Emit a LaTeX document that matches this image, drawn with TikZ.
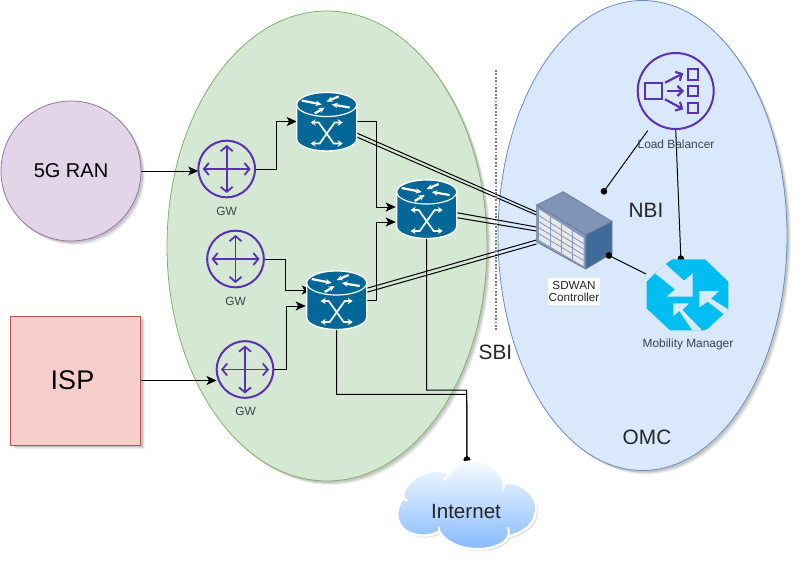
\documentclass[tikz,border=0pt]{standalone}
\usepackage{fontspec}
\setmainfont{Liberation Sans}
\usetikzlibrary{arrows.meta,shapes.geometric,shadows,calc}
\definecolor{gwpurple}{HTML}{5A30B5}
\definecolor{routerblue}{HTML}{036897}
\definecolor{mmcyan}{HTML}{00BEF2}
\definecolor{bgblue}{HTML}{DAE8FC}
\definecolor{bgblueline}{HTML}{6C8EBF}
\definecolor{bggreen}{HTML}{D5E8D4}
\definecolor{bggreenline}{HTML}{82B366}
\definecolor{ranfill}{HTML}{E1D5E7}
\definecolor{ranline}{HTML}{9673A6}
\definecolor{ispfill}{HTML}{F8CECC}
\definecolor{ispline}{HTML}{B85450}
\definecolor{labelgray}{HTML}{3A424C}
\definecolor{cloudblue}{HTML}{7EB6FF}
\definecolor{ctop}{HTML}{8094B8}
\definecolor{cside}{HTML}{3F6B9A}
\definecolor{cedge}{HTML}{6F7F95}
\definecolor{cgrid}{HTML}{8399C0}
\definecolor{ccell}{HTML}{E8E8E8}
\newcommand{\fs}[1]{\fontsize{#1}{#1}\selectfont}
\tikzset{
  softshadow/.style={
    general shadow={shadow xshift=4pt,shadow yshift=-4pt,fill=black,opacity=.06},
    general shadow={shadow xshift=3pt,shadow yshift=-3pt,fill=black,opacity=.08},
    general shadow={shadow xshift=2pt,shadow yshift=-2pt,fill=black,opacity=.1}},
  zone/.style={ellipse,inner sep=0pt,line width=.8pt,softshadow},
  bigtext/.style={font=\fs{20.8},text=black!85},
  smalllabel/.style={font=\fs{11.9},text=labelgray,inner sep=0pt},
  conn/.style={line width=1pt,draw=black,-{Stealth[length=10pt,width=9pt,inset=2.5pt]}},
  dotconn/.style={line width=1pt,draw=black,-{Circle[length=6.6pt,width=6.6pt]}},
  thinline/.style={line width=1pt,draw=black},
  hitbox/.style={rectangle,inner sep=0pt,outer sep=0pt},
  router/.pic={
    \path[fill=routerblue,draw=white,line width=1.4pt]
      (-30,-17) -- (-30,17.5) arc[start angle=180,end angle=360,x radius=30pt,y radius=12pt]
      -- (30,-17) arc[start angle=0,end angle=180,x radius=30pt,y radius=12pt] -- cycle;
    \draw[white,line width=1.2pt,fill=routerblue] (0,-17) ellipse[x radius=30pt,y radius=12pt];
    \begin{scope}[white,-{Stealth[length=6pt,width=5.5pt]}]
      \draw[line width=2.2pt] (-25,-21) -- (-5,-17);
      \draw[line width=2.2pt] (12,-25) -- (0,-20);
      \draw[line width=2.2pt] (23,-14) -- (5,-17);
      \draw[line width=2.2pt] (-12,-8) -- (-2,-14);
    \end{scope}
    \begin{scope}[white,line width=1.7pt,{Stealth[length=5pt,width=6.5pt]}-{Stealth[length=5pt,width=6.5pt]}]
      \draw (-16,1) -- (-8,1) -- (7,22) -- (16,22);
      \draw (16,1) -- (8,1) -- (-7,22) -- (-16,22);
    \end{scope}
  },
  gwicon/.pic={
    \draw[gwpurple,line width=2pt] (0,0) circle[radius=28.3pt];
    \begin{scope}[gwpurple,line width=1.8pt,{Straight Barb[length=5pt,width=12pt]}-{Straight Barb[length=5pt,width=12pt]}]
      \draw (-24,0) -- (24,0);
      \draw (0,-24) -- (0,24);
    \end{scope}
  },
}
\begin{document}
\begin{tikzpicture}[x=1pt,y=-1pt]
\useasboundingbox (0,0) rectangle (798,562);

% zones
\node[zone,draw=bggreenline,fill=bggreen,minimum width=320pt,minimum height=470pt] (edgezone) at (327,246) {};
\node[zone,draw=bgblueline,fill=bgblue,minimum width=289pt,minimum height=470pt] (omczone) at (642.5,235.5) {};
\node[zone,circle,draw=ranline,fill=ranfill,minimum size=140pt] (ran) at (71,171) {\fs{20}5G RAN};
\node[rectangle,draw=ispline,line width=.8pt,fill=ispfill,minimum width=130pt,minimum height=129pt,inner sep=0pt,softshadow,font=\fs{27}] (isp) at (75.5,380.5) {ISP\hspace{6pt}\null};

% invisible named boxes for the icons
\node[hitbox,minimum width=57pt,minimum height=57pt] (gw1) at (226.7,169) {};
\node[hitbox,minimum width=57pt,minimum height=57pt] (gw2) at (235.5,259) {};
\node[hitbox,minimum width=57pt,minimum height=57pt] (gw3) at (245,369.5) {};
\node[hitbox,minimum width=60pt,minimum height=59pt] (r1) at (326.7,121.5) {};
\node[hitbox,minimum width=60pt,minimum height=59pt] (r2) at (426.7,209) {};
\node[hitbox,minimum width=60pt,minimum height=59pt] (r3) at (336.7,300) {};
\node[hitbox,minimum width=76pt,minimum height=78pt] (ctrl) at (574.5,230.5) {};
\node[hitbox,minimum width=83pt,minimum height=72pt] (mm) at (687.5,295) {};
\node[circle,inner sep=0pt,minimum size=77pt] (lb) at (675.7,91) {};
\node[hitbox,minimum width=139pt,minimum height=88pt] (cloud) at (467,506) {};

% connectors
\draw[conn] (ran.east) -- (gw1.west |- ran.east);
\draw[conn] (gw1.east) -- ++(21,0) |- (r1.west);
\draw[conn] (gw2.east) -- ++(21,0) |- ([xshift=5pt,yshift=10pt]r3.west);
\draw[conn] (gw3.east) -- ++(13,0) |- ([yshift=-6pt,xshift=-1pt]r3.west);
\draw[conn] (isp.east) -- (gw3.west |- isp.east);
\draw[conn] (r1.east) -- ++(20,0) |- ([xshift=-1pt,yshift=2pt]r2.west);
\draw[conn] (r3.east) -- ++(10,0) |- ([xshift=-1pt,yshift=-13pt]r2.west);
\draw[thinline] ([yshift=-11.5pt]r1.east) -- ([yshift=18.5pt]ctrl.west);
\draw[thinline] ([yshift=-15.5pt]r1.east) -- ([yshift=15.5pt]ctrl.west);
\draw[thinline] ([yshift=-3.7pt]r2.east) -- ([yshift=3.5pt]ctrl.west);
\draw[thinline] ([yshift=-8.7pt]r2.east) -- ([yshift=-.5pt]ctrl.west);
\draw[thinline] ([yshift=11.7pt]r3.east) -- ([yshift=-9.5pt]ctrl.west);
\draw[thinline] ([yshift=7.7pt]r3.east) -- ([yshift=-13.5pt]ctrl.west);
\draw[dotconn] (r2.south) |- (466.7,390) -- ([yshift=-1pt]cloud.north);
\draw[dotconn] (r3.south) |- (466.7,394.3) -- ([yshift=-1pt]cloud.north);
\draw[dotconn] (lb.south) -- ([xshift=-6.5pt,yshift=-3pt]mm.north);
\draw[dotconn] ([xshift=-28pt,yshift=-1pt]lb.south) -- ([xshift=27.5pt,yshift=-2.5pt]ctrl.north);

% router and gateway icons
\pic at (r1) {router};
\pic at (r2) {router};
\pic at (r3) {router};
\pic at (gw1) {gwicon};
\pic at (gw2) {gwicon};
\pic at (gw3) {gwicon};

% dotted interface line
\coordinate (sbitop) at (496,70);
\coordinate (sbibot) at (496,331);
\draw[gray,line width=1.7pt,dash pattern=on 1.7pt off 1.7pt] (sbitop) -- (sbibot);

% controller
\coordinate (cTL) at (536.7,205);
\coordinate (cB) at (563.3,191.7);
\coordinate (cR) at (612,221.5);
\coordinate (cF) at (585.7,235);
\coordinate (cFB) at (585.7,269);
\coordinate (cBL) at (536.7,242);
\coordinate (cRB) at (612,253.5);
\draw[cedge,line width=.8pt,fill=ctop] (cTL) -- (cB) -- (cR) -- (cF) -- cycle;
\draw[cedge,line width=.8pt,fill=cside] (cF) -- (cR) -- (cRB) -- (cFB) -- cycle;
\draw[cedge,line width=.8pt,fill=cgrid] (cTL) -- (cF) -- (cFB) -- (cBL) -- cycle;
\coordinate (gTL) at (539,209.5);
\coordinate (gTR) at (583.5,238);
\coordinate (gBL) at (539,240);
\coordinate (gBR) at (583.5,266);
\fill[ccell] (gTL) -- (gTR) -- (gBR) -- (gBL) -- cycle;
\foreach \f in {.25,.5,.75}
  \draw[cgrid,line width=.8pt] ($(gTL)!\f!(gTR)$) -- ($(gBL)!\f!(gBR)$);
\foreach \f in {.2,.4,.6,.8}
  \draw[cgrid,line width=.8pt] ($(gTL)!\f!(gBL)$) -- ($(gTR)!\f!(gBR)$);
\draw[dotconn] ([yshift=21pt]mm.west) -- ([xshift=-6.5pt,yshift=-23.5pt]ctrl.east);
\node[fill=white,inner sep=0pt,minimum width=52pt,minimum height=27pt,align=center,font=\fs{11.7},text=black!85] (ctrllabel) at (574,291.5) {SDWAN\\Controller};

% load balancer
\draw[gwpurple,line width=2pt] (lb.center) circle[radius=38pt];
\begin{scope}[gwpurple,line width=2.2pt]
  \draw (645,82.7) rectangle (662.3,99.3);
  \draw (687.7,69.3) rectangle (697.7,80);
  \draw (687.7,85.7) rectangle (697.7,96);
  \draw (687.7,103.3) rectangle (697.7,113.3);
  \begin{scope}[-{Straight Barb[length=5pt,width=10pt]}]
    \draw (665,82.7) -- (683.3,73.3);
    \draw (666.7,91) -- (684,91);
    \draw (665,99.3) -- (683.3,109.3);
  \end{scope}
\end{scope}

% mobility manager
\begin{scope}[shift={(640,250)},scale=1/3]
  \begin{scope}
    \clip (97,28) -- (195,28) -- (265,95) -- (265,178) -- (203,237) -- (190,241) -- (90,241) -- (20,175) -- (20,95) -- (45,70) -- (77,42) -- cycle;
    \fill[mmcyan] (0,0) rectangle (285,270);
    \fill[bgblue] (45,70) -- (77,42) -- (132,92) -- (158,70) -- (158,140) -- (80,140) -- (105,118) -- cycle;
    \fill[bgblue] (100,160) -- (147,160) -- (127,180) -- (190,245) -- (160,245) -- (118,183) -- (100,198) -- cycle;
    \fill[bgblue] (178,123) -- (237,123) -- (213,146) -- (268,180) -- (268,210) -- (248,190) -- (203,155) -- (178,172) -- cycle;
  \end{scope}
\end{scope}

% cloud
\begin{scope}[shift={(380,440)},scale=1/3]
  \path[fill=black,opacity=.12,shift={(6,6)}]
    (70,175) .. controls (65,120) and (160,70) .. (208,102)
    .. controls (237,48) and (347,45) .. (372,130)
    .. controls (430,120) and (485,180) .. (465,225)
    .. controls (460,260) and (420,280) .. (385,290)
    .. controls (360,340) and (220,345) .. (178,275)
    .. controls (130,300) and (60,285) .. (52,230)
    .. controls (50,205) and (60,185) .. (70,175) -- cycle;
  \path[draw=white,line width=2.4pt,top color=white,bottom color=cloudblue,shading angle=0]
    (70,175) .. controls (65,120) and (160,70) .. (208,102)
    .. controls (237,48) and (347,45) .. (372,130)
    .. controls (430,120) and (485,180) .. (465,225)
    .. controls (460,260) and (420,280) .. (385,290)
    .. controls (360,340) and (220,345) .. (178,275)
    .. controls (130,300) and (60,285) .. (52,230)
    .. controls (50,205) and (60,185) .. (70,175) -- cycle;
  \draw[white,line width=2pt] (208,102) .. controls (200,110) and (195,115) .. (192,122);
  \draw[white,line width=2pt] (372,130) .. controls (372,140) and (372,145) .. (368,152);
  \draw[white,line width=2pt] (178,260) .. controls (176,265) and (177,270) .. (178,275);
  \draw[white,line width=2pt] (385,290) .. controls (387,280) and (387,270) .. (385,262);
  \draw[white,line width=2pt] (70,175) .. controls (73,178) and (77,180) .. (82,182);
\end{scope}
\node[font=\fs{20.6},text=black!85,inner sep=0pt] (cloudtext) at (466,512) {Internet};

% text labels
\node[smalllabel] (gw1label) at (226.7,211) {GW};
\node[smalllabel] (gw2label) at (235.5,301) {GW};
\node[smalllabel] (gw3label) at (245.5,411) {GW};
\node[smalllabel] (lblabel) at (676,144) {Load Balancer};
\node[smalllabel] (mmlabel) at (688,344) {Mobility Manager};
\node[bigtext,inner sep=0pt] (sbi) at (495.5,352) {SBI};
\node[bigtext,inner sep=0pt] (nbi) at (646,210) {NBI};
\node[bigtext,inner sep=0pt] (omc) at (647,437) {OMC};
\end{tikzpicture}
\end{document}
